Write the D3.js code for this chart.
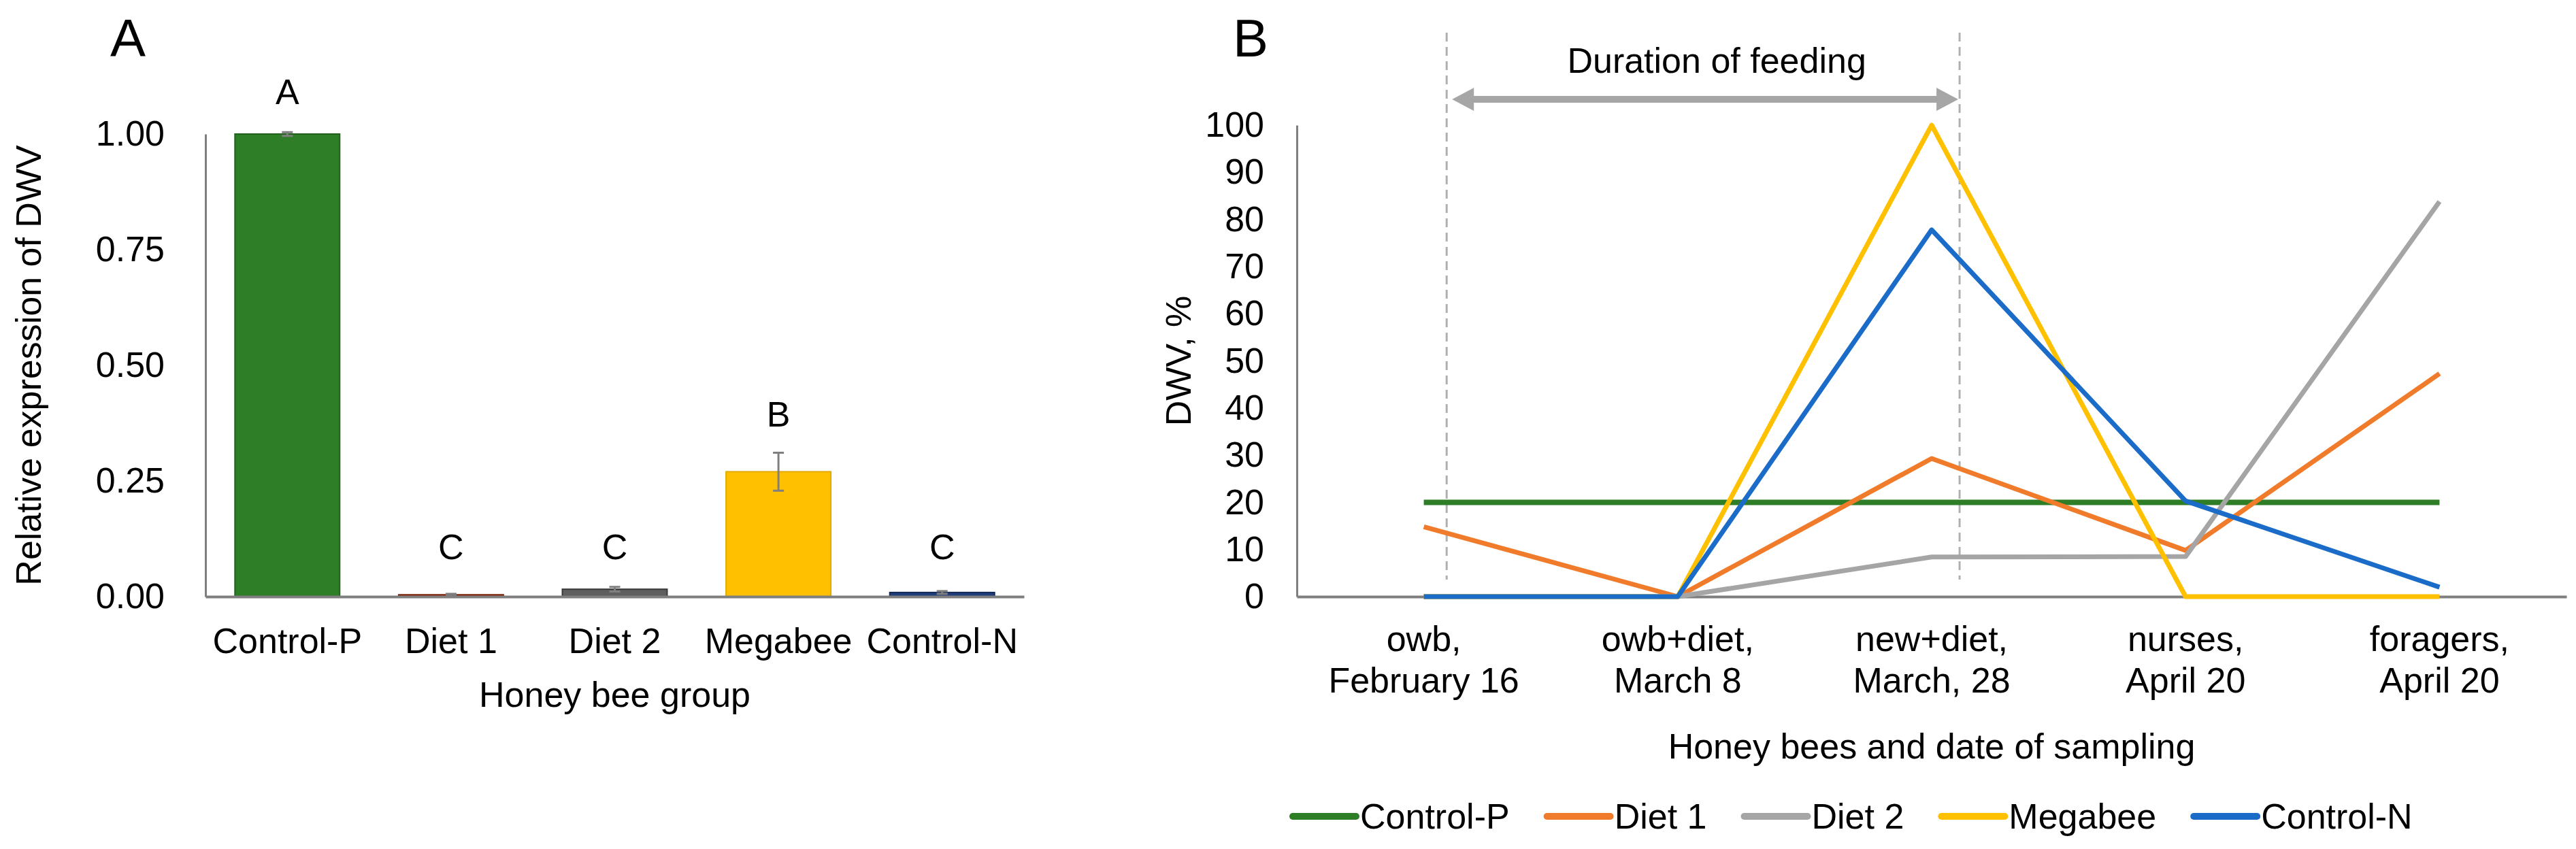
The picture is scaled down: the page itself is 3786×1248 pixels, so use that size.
<!DOCTYPE html>
<html>
<head>
<meta charset="utf-8">
<script src="https://cdnjs.cloudflare.com/ajax/libs/d3/7.8.5/d3.min.js"></script>
<style>
  body { margin: 0; background: #fff; }
  svg text { font-family: "Liberation Sans", Arial, sans-serif; fill: #000; }
</style>
</head>
<body>
<div id="chart"></div>
<script>
var svgWidth = 3786;
var svgHeight = 1248;

// ---- panel A: relative expression of DWV ----
var groups = ["Control-P", "Diet 1", "Diet 2", "Megabee", "Control-N"];
var expression = [1.0, 0.004, 0.016, 0.27, 0.009];
var expressionErr = [0.004, 0.002, 0.005, 0.041, 0.003];
var groupLetters = ["A", "C", "C", "B", "C"];
var letterLevel = [1.065, 0.081, 0.081, 0.368, 0.081];
var yTicksA = [0, 0.25, 0.5, 0.75, 1.0];

// ---- panel B: DWV % by sampling ----
var samplings = ["owb,|February 16", "owb+diet,|March 8", "new+diet,|March, 28", "nurses,|April 20", "foragers,|April 20"];
var seriesNames = ["Control-P", "Diet 1", "Diet 2", "Megabee", "Control-N"];
var controlP = [20, 20, 20, 20, 20];
var diet1 = [14.8, 0, 29.3, 9.8, 47.3];
var diet2 = [0, 0, 8.4, 8.5, 83.8];
var megabee = [0, 0, 100, 0, 0];
var controlN = [0, 0, 77.8, 20.3, 2];
var yTicksB = [0, 10, 20, 30, 40, 50, 60, 70, 80, 90, 100];

var barFill = ["#2e7d27", "#9a2c0e", "#5f5f5f", "#ffc000", "#1f3d7a"];
var barEdge = ["#22621c", "#7a1e06", "#3a3a3a", "#e3a900", "#142a57"];
var lineColors = ["#2e7d27", "#f07b2b", "#a5a5a5", "#ffc000", "#1a6cc8"];

var fs = 52;

var svg = d3.select("#chart")
  .append("svg")
  .attr("width", svgWidth)
  .attr("height", svgHeight);

// ================= Panel A =================
var xA = d3.scaleBand()
  .domain(groups)
  .range([302, 1505])
  .paddingInner(0.36)
  .paddingOuter(0.18);

var yA = d3.scaleLinear()
  .domain([0, 1])
  .range([877, 197]);

svg.append("text")
  .attr("x", 188)
  .attr("y", 83)
  .attr("text-anchor", "middle")
  .style("font-size", "78px")
  .text("A");

// y axis
var yAxisA = svg.append("g")
  .attr("transform", "translate(302,0)")
  .call(d3.axisLeft(yA).tickValues(yTicksA).tickFormat(d3.format(".2f")).tickSize(0).tickPadding(60));
yAxisA.select(".domain").attr("stroke", "#7f7f7f").attr("stroke-width", 3);
yAxisA.selectAll("text").style("font-size", fs + "px").attr("font-family", null);

// bars
svg.append("g").selectAll("rect")
  .data(groups)
  .enter()
  .append("rect")
  .attr("x", d => xA(d))
  .attr("width", xA.bandwidth())
  .attr("y", (d, i) => yA(expression[i]))
  .attr("height", (d, i) => yA(0) - yA(expression[i]))
  .attr("fill", (d, i) => barFill[i])
  .attr("stroke", (d, i) => barEdge[i])
  .attr("stroke-width", 2);

// error bars
var errG = svg.append("g").attr("stroke", "#7f7f7f").attr("stroke-width", 3);
groups.forEach(function(g, i) {
  var cx = xA(g) + xA.bandwidth() / 2;
  var lo = yA(expression[i] - expressionErr[i]);
  var hi = yA(expression[i] + expressionErr[i]);
  errG.append("line").attr("x1", cx).attr("x2", cx).attr("y1", lo).attr("y2", hi);
  errG.append("line").attr("x1", cx - 8).attr("x2", cx + 8).attr("y1", lo).attr("y2", lo);
  errG.append("line").attr("x1", cx - 8).attr("x2", cx + 8).attr("y1", hi).attr("y2", hi);
});

// x axis
var xAxisA = svg.append("g")
  .attr("transform", "translate(0,877)")
  .call(d3.axisBottom(xA).tickSize(0).tickPadding(46));
xAxisA.select(".domain").attr("stroke", "#7f7f7f").attr("stroke-width", 4);
xAxisA.selectAll("text").style("font-size", fs + "px").attr("font-family", null);

// significance letters
svg.append("g").selectAll("text")
  .data(groups)
  .enter()
  .append("text")
  .attr("x", d => xA(d) + xA.bandwidth() / 2)
  .attr("y", (d, i) => yA(letterLevel[i]))
  .attr("text-anchor", "middle")
  .style("font-size", fs + "px")
  .text((d, i) => groupLetters[i]);

svg.append("text")
  .attr("x", (302 + 1505) / 2)
  .attr("y", 1039)
  .attr("text-anchor", "middle")
  .style("font-size", fs + "px")
  .text("Honey bee group");

svg.append("text")
  .attr("transform", "translate(60," + (197 + 877) / 2 + ") rotate(-90)")
  .attr("text-anchor", "middle")
  .style("font-size", fs + "px")
  .text("Relative expression of DWV");

// ================= Panel B =================
var xB = d3.scaleBand()
  .domain(samplings)
  .range([1906, 3772]);

var yB = d3.scaleLinear()
  .domain([0, 100])
  .range([877, 184]);

var cx = d => xB(d) + xB.bandwidth() / 2;

svg.append("text")
  .attr("x", 1838)
  .attr("y", 83)
  .attr("text-anchor", "middle")
  .style("font-size", "78px")
  .text("B");

var yAxisB = svg.append("g")
  .attr("transform", "translate(1906,0)")
  .call(d3.axisLeft(yB).tickValues(yTicksB).tickSize(0).tickPadding(48));
yAxisB.select(".domain").attr("stroke", "#7f7f7f").attr("stroke-width", 3);
yAxisB.selectAll("text").style("font-size", fs + "px").attr("font-family", null);

var xAxisB = svg.append("g")
  .attr("transform", "translate(0,877)")
  .call(d3.axisBottom(xB).tickSize(0).tickPadding(0));
xAxisB.select(".domain").attr("stroke", "#7f7f7f").attr("stroke-width", 4);
xAxisB.selectAll(".tick text").each(function(d) {
  var parts = d.split("|");
  var t = d3.select(this).text(null).attr("dy", null).attr("y", 0).attr("font-family", null)
    .style("font-size", fs + "px");
  t.append("tspan").attr("x", 0).attr("y", 80).text(parts[0]);
  t.append("tspan").attr("x", 0).attr("y", 141).text(parts[1]);
});

// feeding period markers
var step = xB.step();
var feedStart = cx(samplings[0]) + step * 0.09;
var feedEnd = cx(samplings[2]) + step * 0.11;
svg.append("g")
  .selectAll("line")
  .data([feedStart, feedEnd])
  .enter()
  .append("line")
  .attr("x1", d => d).attr("x2", d => d)
  .attr("y1", 48).attr("y2", 852)
  .attr("stroke", "#b0b0b0")
  .attr("stroke-width", 3)
  .attr("stroke-dasharray", "13,8");

var arrowY = 146;
svg.append("line")
  .attr("x1", feedStart + 30).attr("x2", feedEnd - 30)
  .attr("y1", arrowY).attr("y2", arrowY)
  .attr("stroke", "#a6a6a6").attr("stroke-width", 10);
svg.append("path")
  .attr("d", `M${feedStart + 8},${arrowY} L${feedStart + 40},${arrowY - 17} L${feedStart + 40},${arrowY + 17} Z`)
  .attr("fill", "#a6a6a6");
svg.append("path")
  .attr("d", `M${feedEnd - 2},${arrowY} L${feedEnd - 34},${arrowY - 17} L${feedEnd - 34},${arrowY + 17} Z`)
  .attr("fill", "#a6a6a6");

svg.append("text")
  .attr("x", (feedStart + feedEnd) / 2 + 20)
  .attr("y", 107)
  .attr("text-anchor", "middle")
  .style("font-size", fs + "px")
  .text("Duration of feeding");

// lines
var allSeries = [controlP, diet1, diet2, megabee, controlN];
var line = d3.line()
  .x((d, i) => cx(samplings[i]))
  .y(d => yB(d));

svg.append("g").selectAll("path")
  .data(allSeries)
  .enter()
  .append("path")
  .attr("d", d => line(d))
  .attr("fill", "none")
  .attr("stroke", (d, i) => lineColors[i])
  .attr("stroke-width", (d, i) => i === 0 ? 8 : 7)
  .attr("stroke-linejoin", "round");

svg.append("text")
  .attr("x", cx(samplings[2]))
  .attr("y", 1115)
  .attr("text-anchor", "middle")
  .style("font-size", fs + "px")
  .text("Honey bees and date of sampling");

svg.append("text")
  .attr("transform", "translate(1750," + (184 + 877) / 2 + ") rotate(-90)")
  .attr("text-anchor", "middle")
  .style("font-size", fs + "px")
  .text("DWV, %");

// legend
var legend = svg.append("g").attr("transform", "translate(1900,1200)");
var lx = 0;
seriesNames.forEach(function(name, i) {
  legend.append("line")
    .attr("x1", lx).attr("x2", lx + 93)
    .attr("y1", 0).attr("y2", 0)
    .attr("stroke", lineColors[i])
    .attr("stroke-width", 10)
    .attr("stroke-linecap", "round");
  var t = legend.append("text")
    .attr("x", lx + 99)
    .attr("y", 18)
    .style("font-size", fs + "px")
    .text(name);
  lx += 99 + t.node().getComputedTextLength() + 55;
});
</script>
</body>
</html>
